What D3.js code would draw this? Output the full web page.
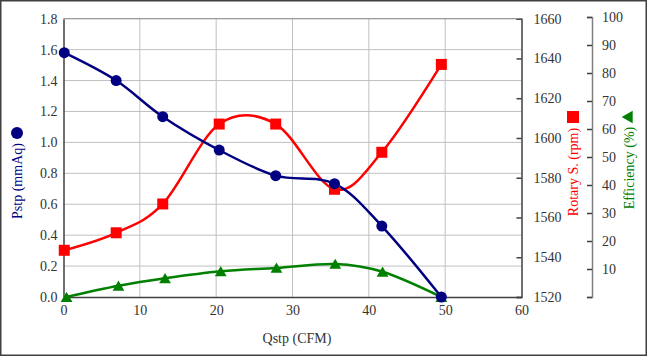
<!DOCTYPE html>
<html><head><meta charset="utf-8">
<script src="https://cdn.jsdelivr.net/npm/d3@7"></script>
<style>html,body{margin:0;padding:0;background:#fff;}svg{display:block;} text{font-family:'Liberation Serif','Times New Roman',serif;}</style>
</head><body>
<svg id="c" width="647" height="356"></svg>
<script>
const qstp = [0.1, 6.9, 13.0, 20.4, 27.8, 35.5, 41.7, 49.5];
const pstp = [1.58, 1.40, 1.166, 0.95, 0.785, 0.733, 0.459, 0.0];
const rpm = [1543.5, 1552.3, 1566.8, 1607, 1607, 1574.2, 1592.8, 1637];
const effX = [0.4, 7.2, 13.3, 20.6, 27.9, 35.6, 41.8, 49.5];
const eff = [0.0, 4.0, 6.7, 9.2, 10.4, 11.8, 9.0, 0.0];
const xTicks = [0, 10, 20, 30, 40, 50, 60];
const pTicks = [0, 0.2, 0.4, 0.6, 0.8, 1.0, 1.2, 1.4, 1.6, 1.8];
const rTicks = [1520, 1540, 1560, 1580, 1600, 1620, 1640, 1660];
const eTicks = [10, 20, 30, 40, 50, 60, 70, 80, 90, 100];

const svg = d3.select("#c");
const font = "'Liberation Serif', 'Times New Roman', serif";
const L = 63.5, R = 521.5, T = 18.7, B = 297;
const x = d3.scaleLinear().domain([0, 60]).range([L, R]);
const yP = d3.scaleLinear().domain([0, 1.8]).range([B, T]);
const yR = d3.scaleLinear().domain([1520, 1660]).range([B, T]);
const yE = d3.scaleLinear().domain([0, 100]).range([B, 17]);

// outer border
svg.append("rect").attr("x", 0.75).attr("y", 0.75).attr("width", 645.5).attr("height", 354.5)
  .attr("fill", "none").attr("stroke", "#404040").attr("stroke-width", 1.5);

// gridlines
const g = svg.append("g");
g.selectAll(".hg").data(pTicks.slice(1)).join("line")
  .attr("x1", L).attr("x2", R).attr("y1", d => yP(d)).attr("y2", d => yP(d))
  .attr("stroke", "#c0c0c0").attr("stroke-width", 1);
g.selectAll(".vg").data(xTicks.slice(1, -1)).join("line")
  .attr("x1", d => x(d)).attr("x2", d => x(d)).attr("y1", T).attr("y2", B)
  .attr("stroke", "#c0c0c0").attr("stroke-width", 1);

// axes
const axL = svg.append("g").attr("transform", `translate(${L},0)`)
  .call(d3.axisLeft(yP).tickValues(pTicks).tickFormat(d3.format(".1f")).tickSize(0).tickPadding(6));
const axB = svg.append("g").attr("transform", `translate(0,${B})`)
  .call(d3.axisBottom(x).tickValues(xTicks).tickSize(0).tickPadding(8));
const axR = svg.append("g").attr("transform", `translate(${R},0)`)
  .call(d3.axisRight(yR).tickValues(rTicks).tickFormat(d3.format("d")).tickSize(-5).tickPadding(12));
const axE = svg.append("g").attr("transform", `translate(592,0)`)
  .call(d3.axisRight(yE).tickValues([0].concat(eTicks)).tickFormat(d => d === 0 ? "" : d).tickSize(-5).tickPadding(10));
[axL, axB, axR, axE].forEach(a => {
  a.attr("font-family", font).attr("font-size", 14);
  a.selectAll("text").style("font-family", font).style("font-size", "14px").attr("fill", "#333");
  a.select(".domain").attr("stroke", "#404040").attr("stroke-width", 1.5);
  a.selectAll(".tick line").attr("stroke", "#404040").attr("stroke-width", 1.5);
});
axE.select(".domain").attr("stroke", "#808080");
// top frame
svg.append("line").attr("x1", L).attr("x2", R).attr("y1", T).attr("y2", T)
  .attr("stroke", "#909090").attr("stroke-width", 1);

// curves
const curve = d3.curveCatmullRom.alpha(0);
const lp = d3.line().x((d, i) => x(qstp[i])).y(d => yP(d)).curve(curve);
const lr = d3.line().x((d, i) => x(qstp[i])).y(d => yR(d)).curve(curve);
const le = d3.line().x((d, i) => x(effX[i])).y(d => yE(d)).curve(curve);

svg.append("path").attr("d", le(eff)).attr("fill", "none").attr("stroke", "#008000").attr("stroke-width", 2.5);
svg.append("path").attr("d", lr(rpm)).attr("fill", "none").attr("stroke", "#ff0000").attr("stroke-width", 2.5);
svg.append("path").attr("d", lp(pstp)).attr("fill", "none").attr("stroke", "#000080").attr("stroke-width", 2.5);

const tri = d3.symbol().type(d3.symbolTriangle).size(60);
svg.selectAll(".te").data(eff).join("path")
  .attr("transform", (d, i) => `translate(${x(effX[i])},${yE(d) + 1.5})`)
  .attr("d", tri).attr("fill", "#008000");
svg.selectAll(".sr").data(rpm).join("rect")
  .attr("x", (d, i) => x(qstp[i]) - 5.5).attr("y", d => yR(d) - 5.5)
  .attr("width", 11).attr("height", 11).attr("fill", "#ff0000");
svg.selectAll(".cp").data(pstp).join("circle")
  .attr("cx", (d, i) => x(qstp[i])).attr("cy", d => yP(d)).attr("r", 5.5).attr("fill", "#000080");

// titles
svg.append("text").attr("x", 297).attr("y", 343).attr("text-anchor", "middle")
  .attr("font-family", font).attr("font-size", 14).attr("fill", "#333").text("Qstp (CFM)");
svg.append("text").attr("transform", "translate(22,181) rotate(-90)").attr("text-anchor", "middle")
  .attr("font-family", font).attr("font-size", 14).attr("fill", "#000080").text("Pstp (mmAq)");
svg.append("circle").attr("cx", 17).attr("cy", 133).attr("r", 6).attr("fill", "#000080");
svg.append("text").attr("transform", "translate(578,172) rotate(-90)").attr("text-anchor", "middle")
  .attr("font-family", font).attr("font-size", 14).attr("fill", "#ff0000").text("Rotary S. (rpm)");
svg.append("rect").attr("x", 567).attr("y", 111).attr("width", 12).attr("height", 12).attr("fill", "#ff0000");
svg.append("text").attr("transform", "translate(634,168) rotate(-90)").attr("text-anchor", "middle")
  .attr("font-family", font).attr("font-size", 14).attr("fill", "#008000").text("Efficiency (%)");
svg.append("path").attr("transform", "translate(629,117) rotate(-90)")
  .attr("d", d3.symbol().type(d3.symbolTriangle).size(70)).attr("fill", "#008000");
</script>
</body></html>
